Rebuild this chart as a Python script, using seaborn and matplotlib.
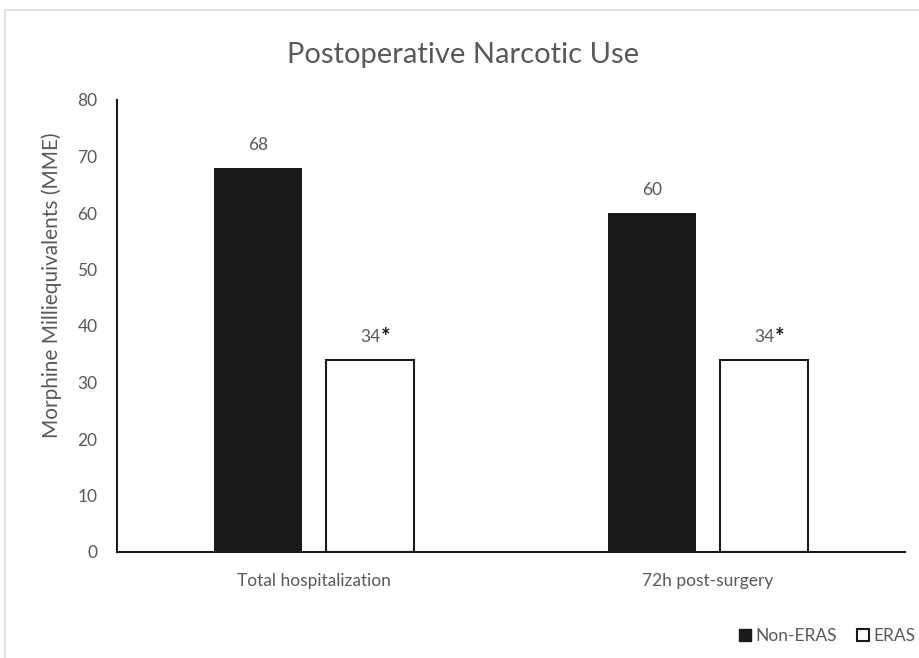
import matplotlib
matplotlib.use("Agg")
import matplotlib.pyplot as plt
from matplotlib.patches import Rectangle
from matplotlib.lines import Line2D
import seaborn as sns
import pandas as pd

# ----------------------------
# Data
# ----------------------------
categories = ["Total hospitalization", "72h post-surgery"]
groups = ["Non-ERAS", "ERAS"]
non_eras = [68, 60]
eras = [34, 34]
significant = [False, True]   # asterisk only on ERAS bars
y_ticks = [0, 10, 20, 30, 40, 50, 60, 70, 80]

df = pd.DataFrame({
    "Category": categories * 2,
    "Group": [groups[0]] * 2 + [groups[1]] * 2,
    "MME": non_eras + eras,
})

grey = "#595959"

sns.set_theme(style="white")
plt.rcParams["font.family"] = ["Lato", "DejaVu Sans"]

fig = plt.figure(figsize=(9.2, 6.58), dpi=100)
ax = fig.add_axes([117 / 920, 106 / 658, 788 / 920, 452 / 658])

sns.barplot(data=df, x="Category", y="MME", hue="Group", hue_order=groups,
            palette={"Non-ERAS": "#1a1a1a", "ERAS": "white"},
            width=0.569, gap=0.214, ax=ax, legend=False, errorbar=None)

# white bars get a black outline
for i, bar in enumerate(ax.patches):
    bar.set_edgecolor("#1a1a1a")
    bar.set_linewidth(1.5 if i >= len(categories) else 0)

# value labels
for i, bar in enumerate(ax.patches[:len(categories) * 2]):
    cx = bar.get_x() + bar.get_width() / 2
    h = bar.get_height()
    ax.annotate(f"{h:.0f}", (cx, h), xytext=(0, 11), textcoords="offset points",
                ha="center", va="bottom", fontsize=12.5, color=grey)
    if i >= len(categories) and significant[1]:
        ax.annotate("*", (cx, h), xytext=(8, 8.5), textcoords="offset points",
                    ha="left", va="bottom", fontsize=16, color="#1a1a1a",
                    fontweight="bold")

ax.set_xlim(-0.5, 1.5)
ax.set_ylim(0, 80)
ax.set_yticks(y_ticks)
ax.tick_params(axis="both", length=0, labelsize=12.5, labelcolor=grey)
ax.tick_params(axis="y", pad=14)
ax.tick_params(axis="x", pad=15)
ax.set_xlabel("")
ax.set_ylabel("Morphine Milliequivalents (MME)", fontsize=15, color=grey)
ax.yaxis.set_label_coords(-0.07, 0.59)

for s in ["top", "right"]:
    ax.spines[s].set_visible(False)
for s in ["left", "bottom"]:
    ax.spines[s].set_color("#1a1a1a")
    ax.spines[s].set_linewidth(1.5)

fig.text(463 / 920, 1 - 55 / 658, "Postoperative Narcotic Use", ha="center",
         va="center", fontsize=21, color=grey)

# legend
handles = [
    Line2D([], [], marker="s", linestyle="none", markersize=8,
           markerfacecolor="#1a1a1a", markeredgecolor="#1a1a1a"),
    Line2D([], [], marker="s", linestyle="none", markersize=8,
           markerfacecolor="white", markeredgecolor="#1a1a1a", markeredgewidth=1.5),
]
fig.legend(handles, groups, loc="center right", bbox_to_anchor=(1.012, 1 - 636 / 658),
           ncol=2, frameon=False, fontsize=12.5, labelcolor=grey,
           handletextpad=0.1, columnspacing=1.0, handlelength=1.0)

# light chart-area border (runs off the right and bottom edges)
fig.patches.append(Rectangle((5 / 920, -0.5), 1.2, 1.5 - 10 / 658, transform=fig.transFigure,
                             fill=False, edgecolor="#d9d9d9", linewidth=1.2))

fig.savefig("out.png", dpi=100)
